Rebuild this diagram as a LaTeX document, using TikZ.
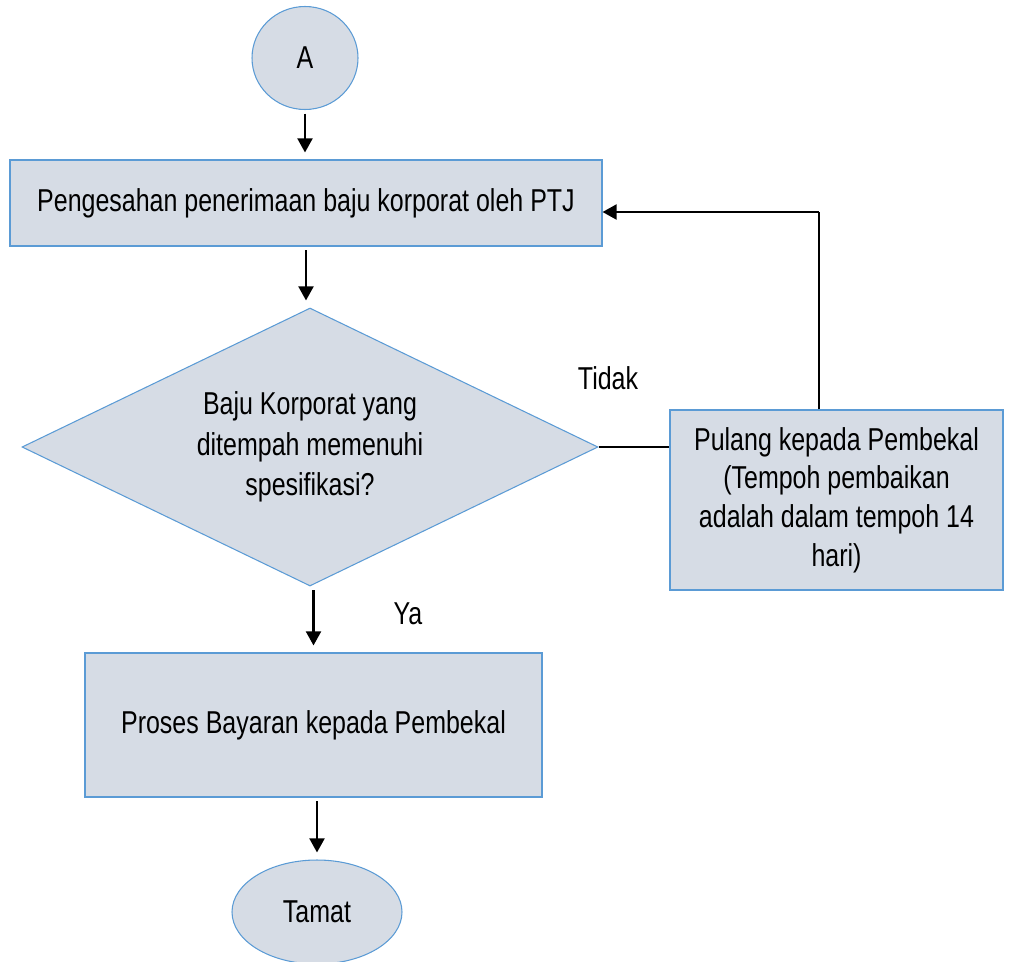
\documentclass[tikz,border=0pt]{standalone}
\usepackage{fontspec}
\setmainfont[FakeStretch=0.79]{Liberation Sans}
\usetikzlibrary{shapes.geometric,arrows.meta,positioning}
\definecolor{kotakisi}{RGB}{214,220,229}
\definecolor{kotakgaris}{RGB}{91,155,213}
\begin{document}
\begin{tikzpicture}[
    font=\fontsize{18}{22}\selectfont,
    kotak/.style={draw=kotakgaris,line width=0.6pt,fill=kotakisi,align=center,inner sep=0pt},
    anak/.style={-{Triangle[length=8pt,width=8.5pt]},line width=1.3pt,shorten <=2pt,shorten >=4pt}
  ]
        \useasboundingbox (0,0) rectangle (20.24,-19.22);

        % Start and end
        \node[kotak,ellipse,minimum width=2.12cm,minimum height=2.06cm] (mula) at (6.1,-1.16) {A};
        \node[kotak,ellipse,minimum width=3.4cm,minimum height=2.08cm] (tamat) at (6.34,-18.24) {Tamat};

        % Process boxes
        \node[kotak,rectangle,minimum width=11.84cm,minimum height=1.72cm] (sah) at (6.12,-4.06)
            {Pengesahan penerimaan baju korporat oleh PTJ};
        \node[kotak,diamond,aspect=2.07,minimum width=11.52cm,minimum height=5.56cm] (semak) at (6.2,-8.94)
            {Baju Korporat yang\\[1pt]ditempah memenuhi\\[1pt]spesifikasi?};
        \node[kotak,rectangle,minimum width=6.66cm,minimum height=3.6cm] (pulang) at (16.73,-10.0)
            {Pulang kepada Pembekal\\(Tempoh pembaikan\\adalah dalam tempoh 14\\hari)};
        \node[kotak,rectangle,minimum width=9.14cm,minimum height=2.88cm] (bayar) at (6.27,-14.5)
            {Proses Bayaran kepada Pembekal};

        % Labels
        \node (tidak) at (12.16,-7.56) {Tidak};
        \node (ya) at (8.16,-12.28) {Ya};

        % Main flow
        \draw[anak] (mula.south) -- (mula.south |- sah.north);
        \draw[anak] (sah.south) -- (sah.south |- semak.north);
        \draw[anak] (semak.south -| bayar.north) -- (bayar.north);
        \draw[anak] (bayar.south -| tamat.north) -- (tamat.north);

        % Back to PTJ
        \coordinate (belok) at (16.38,-4.24);
        \draw[line width=0.6pt] (semak.east) -- (semak.east -| pulang.west);
        \draw[line width=0.6pt] (belok |- pulang.north) -- (belok);
        \draw[-{Triangle[length=8pt,width=8.5pt]},line width=1.3pt] (belok) -- (belok -| sah.east);
    \end{tikzpicture}
\end{document}
